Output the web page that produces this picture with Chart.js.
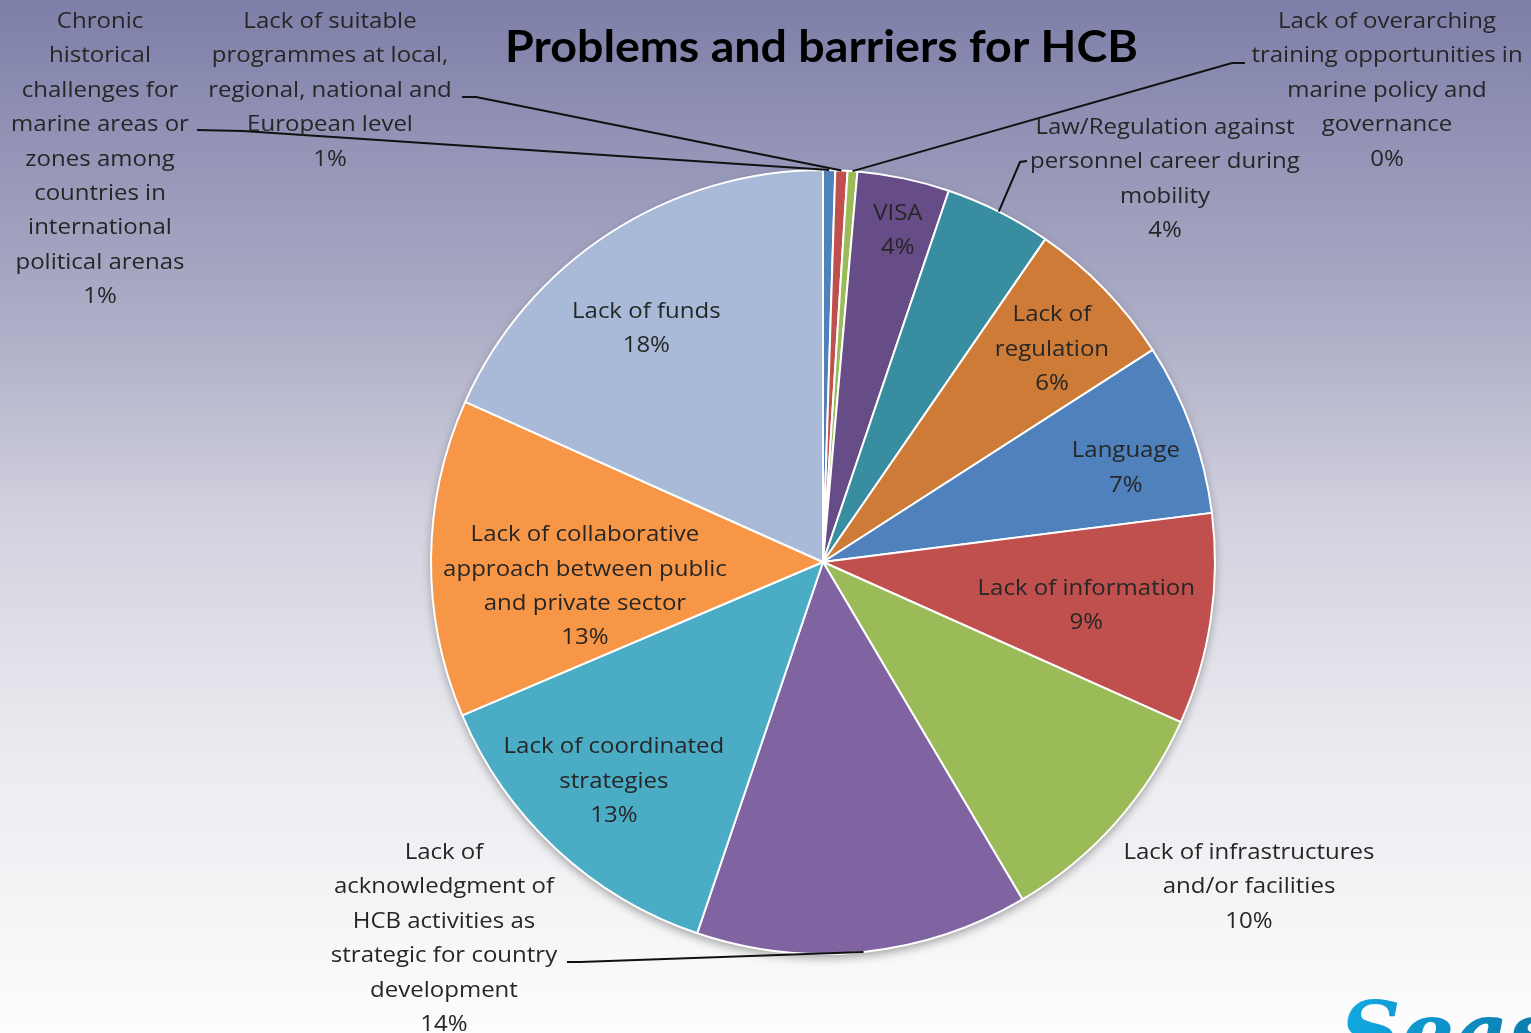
<!DOCTYPE html>
<html>
<head>
<meta charset="utf-8">
<script src="https://cdn.jsdelivr.net/npm/chart.js@4.4.0/dist/chart.umd.min.js"></script>
<style>
  html, body { margin: 0; padding: 0; background: #ffffff; }
  #wrap { width: 1531px; height: 1033px; position: relative; }
</style>
</head>
<body>
<div id="wrap"><canvas id="c" width="1531" height="1033"></canvas></div>
<script>
// ---------- DATA ----------
const chartTitle = "Problems and barriers for HCB";

const categories = [
  ["Chronic", "historical", "challenges for", "marine areas or", "zones among", "countries in", "international", "political arenas"],
  ["Lack of suitable", "programmes at local,", "regional, national and", "European level"],
  ["Lack of overarching", "training opportunities in", "marine policy and", "governance"],
  ["VISA"],
  ["Law/Regulation against", "personnel career during", "mobility"],
  ["Lack of", "regulation"],
  ["Language"],
  ["Lack of information"],
  ["Lack of infrastructures", "and/or facilities"],
  ["Lack of", "acknowledgment of", "HCB activities as", "strategic for country", "development"],
  ["Lack of coordinated", "strategies"],
  ["Lack of collaborative", "approach between public", "and private sector"],
  ["Lack of funds"]
];

// estimated shares (percent of answers)
const shares = [0.5, 0.5, 0.4, 3.8, 4.4, 6.3, 7.1, 8.7, 9.8, 13.7, 13.4, 13.1, 18.3];

// percentages as printed on the chart
const shownPercents = [1, 1, 0, 4, 4, 6, 7, 9, 10, 14, 13, 13, 18];

const sliceColors = [
  "#4F81BD", "#C0504D", "#9BBB59", "#664D87", "#398DA1", "#CD7B37",
  "#4F81BD", "#C0504D", "#9BBB59", "#8064A2", "#4BACC6", "#F79646", "#A9BAD8"
];

// ---------- LABEL LAYOUT (not data) ----------
const insideLayout = {
  3:  { r: 0.87, da: 0.8 },
  5:  { r: 0.80, da: 1.0 },
  6:  { r: 0.81, da: 2.5 },
  7:  { r: 0.68, da: 0.6 },
  10: { r: 0.77, da: 1.0 },
  11: { r: 0.61, da: -6.0 },
  12: { r: 0.75, da: -4.0 }
};
const outsideLayout = {
  0: { x: 100,  y: 28,  stub: [197, 130, 243, 131] },
  1: { x: 330,  y: 28,  stub: [462, 97, 476, 97] },
  2: { x: 1387, y: 28,  stub: [1245, 63, 1232, 63] },
  4: { x: 1165, y: 134, stub: [1027, 161, 1020, 162] },
  8: { x: 1249, y: 859, stub: null },
  9: { x: 444,  y: 859, stub: [567, 962, 580, 962] }
};
const linePitch = 34.4;

const labelFont = '22px "Open Sans"';
const labelColor = '#262626';
const labelWidthRef = { text: 'Lack of infrastructures', width: 251 };
const titleFont = 'bold 44px Lato';
const titleWidth = 633;

const bgPlugin = {
  id: 'bg',
  beforeDraw(chart) {
    const ctx = chart.ctx;
    const g = ctx.createLinearGradient(0, 0, 0, chart.height);
    g.addColorStop(0, '#7e7fa8');
    g.addColorStop(0.32, '#aeaec8');
    g.addColorStop(0.51, '#d3d3e0');
    g.addColorStop(0.71, '#e9e9ef');
    g.addColorStop(1, '#fdfdfd');
    ctx.save();
    ctx.fillStyle = g;
    ctx.fillRect(0, 0, chart.width, chart.height);
    ctx.restore();
  },
  beforeDatasetsDraw(chart) {
    const arc = chart.getDatasetMeta(0).data[0];
    if (!arc) return;
    const ctx = chart.ctx;
    ctx.save();
    ctx.beginPath();
    ctx.arc(arc.x, arc.y, arc.outerRadius, 0, Math.PI * 2);
    ctx.shadowColor = 'rgba(0,0,0,0.35)';
    ctx.shadowBlur = 10;
    ctx.shadowOffsetY = 4;
    ctx.fillStyle = '#ffffff';
    ctx.fill();
    ctx.restore();
  }
};

function drawScaled(ctx, t, cx, y, sx) {
  ctx.save();
  ctx.translate(cx, y);
  ctx.scale(sx, 1);
  ctx.fillText(t, 0, 0);
  ctx.restore();
}

function drawBlock(ctx, lines, cx, y0, sx) {
  lines.forEach((t, i) => drawScaled(ctx, t, cx, y0 + i * linePitch, sx));
}

const labelPlugin = {
  id: 'labels',
  afterDatasetsDraw(chart) {
    const ctx = chart.ctx;
    const meta = chart.getDatasetMeta(0);
    ctx.save();
    ctx.textAlign = 'center';
    ctx.textBaseline = 'alphabetic';
    // title
    ctx.fillStyle = '#000000';
    ctx.font = titleFont;
    const tsx = titleWidth / ctx.measureText(chartTitle).width;
    drawScaled(ctx, chartTitle, 821.5, 62, tsx);

    ctx.font = labelFont;
    ctx.fillStyle = labelColor;
    const sx = labelWidthRef.width / ctx.measureText(labelWidthRef.text).width;
    meta.data.forEach((arc, i) => {
      const lines = categories[i].concat([shownPercents[i] + '%']);
      const mid = (arc.startAngle + arc.endAngle) / 2;
      if (insideLayout[i]) {
        const L = insideLayout[i];
        const a = mid + L.da * Math.PI / 180;
        const rr = arc.outerRadius * L.r;
        const cx = arc.x + Math.cos(a) * rr;
        const cy = arc.y + Math.sin(a) * rr;
        const y0 = cy - (lines.length - 1) * linePitch / 2 + 8;
        drawBlock(ctx, lines, cx, y0, sx);
      } else if (outsideLayout[i]) {
        const L = outsideLayout[i];
        drawBlock(ctx, lines, L.x, L.y, sx);
        if (L.stub) {
          const px = arc.x + Math.cos(mid) * arc.outerRadius;
          const py = arc.y + Math.sin(mid) * arc.outerRadius;
          ctx.save();
          ctx.strokeStyle = '#111111';
          ctx.lineWidth = 2;
          ctx.beginPath();
          ctx.moveTo(L.stub[0], L.stub[1]);
          ctx.lineTo(L.stub[2], L.stub[3]);
          ctx.lineTo(px, py);
          ctx.stroke();
          ctx.restore();
        }
      }
    });

    // logo fragment bottom right
    const lg = ctx.createLinearGradient(1340, 0, 1531, 0);
    lg.addColorStop(0, '#12a9e3');
    lg.addColorStop(1, '#0b7fb0');
    ctx.fillStyle = lg;
    ctx.font = 'italic bold 84px "DejaVu Serif"';
    ctx.textAlign = 'left';
    ctx.fillText('Seas', 1340, 1062);
    ctx.restore();
  }
};

new Chart(document.getElementById('c'), {
  type: 'pie',
  data: {
    labels: categories,
    datasets: [{
      data: shares,
      backgroundColor: sliceColors,
      borderColor: '#ffffff',
      borderWidth: 2
    }]
  },
  options: {
    responsive: false,
    animation: false,
    layout: { padding: { left: 430, right: 315, top: 169, bottom: 78 } },
    plugins: {
      legend: { display: false },
      tooltip: { enabled: false },
      title: { display: false }
    }
  },
  plugins: [bgPlugin, labelPlugin]
});
</script>
</body>
</html>
